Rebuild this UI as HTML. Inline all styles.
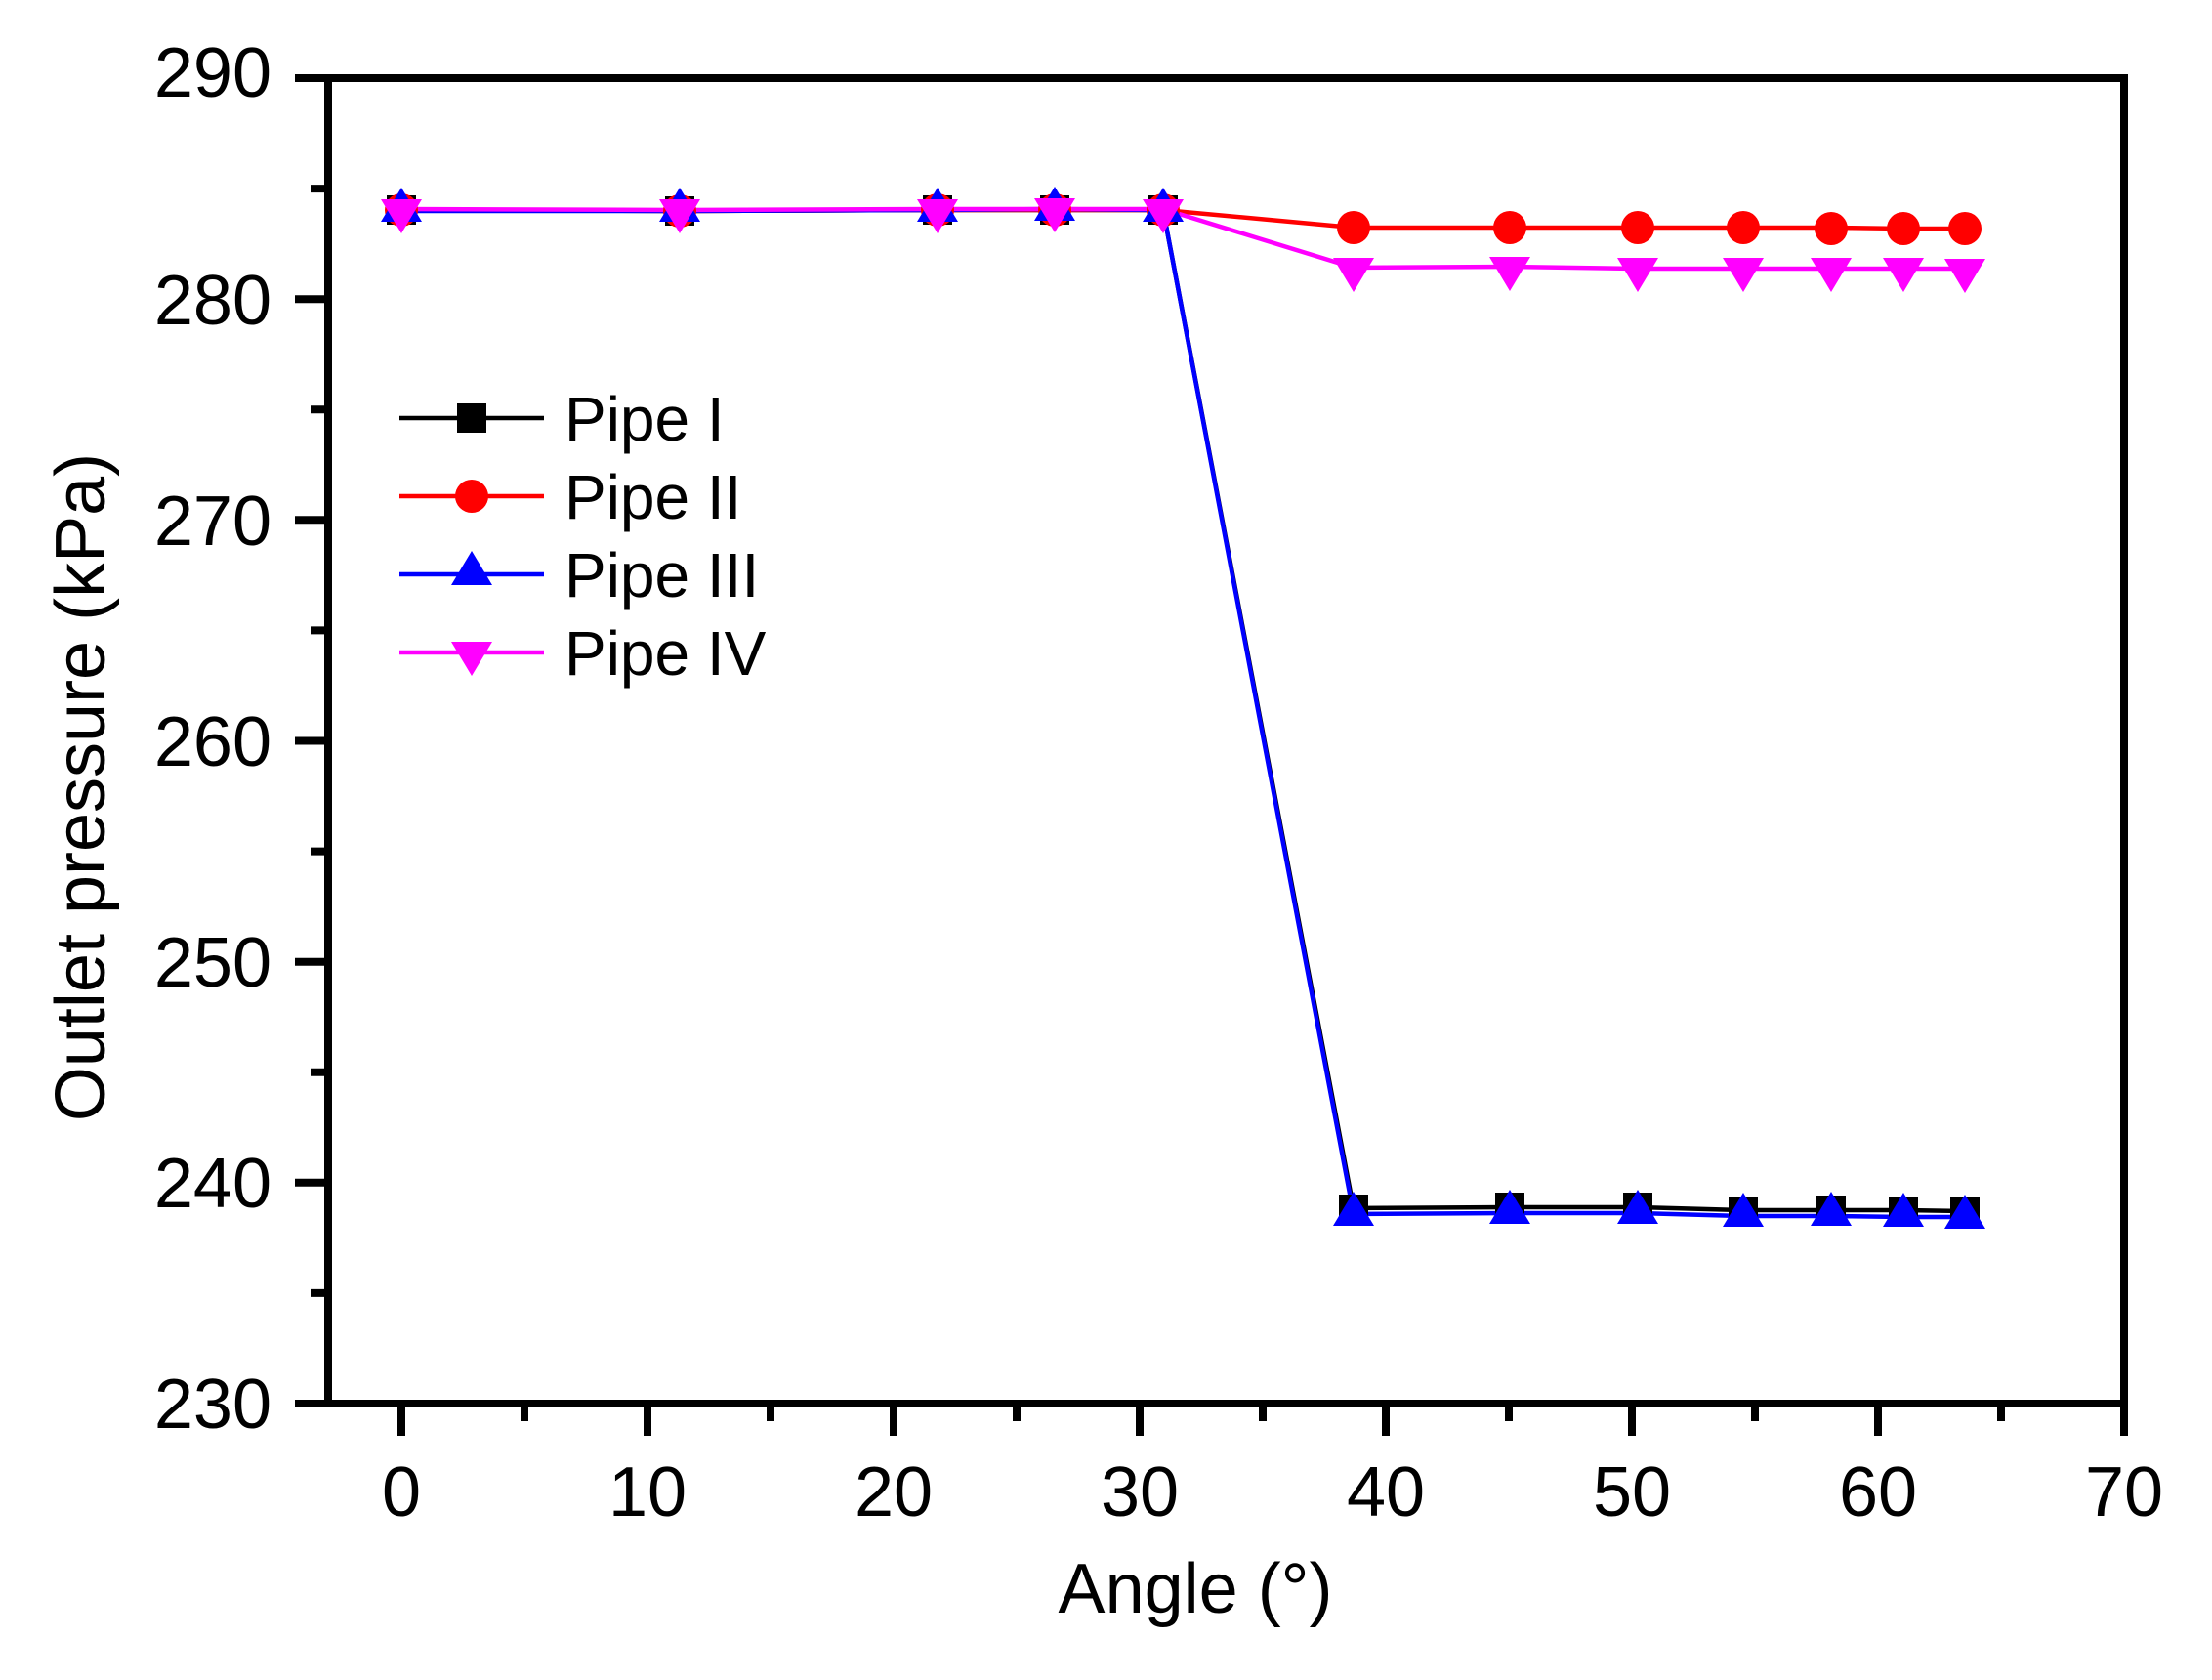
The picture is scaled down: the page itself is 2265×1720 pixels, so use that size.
<!DOCTYPE html>
<html><head><meta charset="utf-8"><style>
html,body{margin:0;padding:0;background:#fff}
svg{display:block}
text{font-family:"Liberation Sans",Arial,sans-serif;fill:#000}
</style></head><body>
<svg width="2265" height="1720" viewBox="0 0 2265 1720" xmlns="http://www.w3.org/2000/svg">
<defs>
<rect id="sq" x="-15" y="-15" width="30" height="30" fill="#000"/>
<circle id="ci" r="17" fill="#f00"/>
<polygon id="tu" points="0,-22 21,13 -21,13" fill="#00f"/>
<polygon id="td" points="0,22 21,-13 -21,-13" fill="#f0f"/>
</defs>
<rect x="336" y="80" width="1839" height="1357" fill="none" stroke="#000" stroke-width="8"/>
<g stroke="#000" stroke-width="8">
<line x1="302" y1="80" x2="336" y2="80"/>
<line x1="302" y1="306.2" x2="336" y2="306.2"/>
<line x1="302" y1="532.3" x2="336" y2="532.3"/>
<line x1="302" y1="758.5" x2="336" y2="758.5"/>
<line x1="302" y1="984.7" x2="336" y2="984.7"/>
<line x1="302" y1="1210.8" x2="336" y2="1210.8"/>
<line x1="302" y1="1437" x2="336" y2="1437"/>
<line x1="318" y1="193.1" x2="336" y2="193.1"/>
<line x1="318" y1="419.3" x2="336" y2="419.3"/>
<line x1="318" y1="645.4" x2="336" y2="645.4"/>
<line x1="318" y1="871.6" x2="336" y2="871.6"/>
<line x1="318" y1="1097.8" x2="336" y2="1097.8"/>
<line x1="318" y1="1323.9" x2="336" y2="1323.9"/>
<line x1="411" y1="1437" x2="411" y2="1470"/>
<line x1="663" y1="1437" x2="663" y2="1470"/>
<line x1="915" y1="1437" x2="915" y2="1470"/>
<line x1="1167" y1="1437" x2="1167" y2="1470"/>
<line x1="1419" y1="1437" x2="1419" y2="1470"/>
<line x1="1671" y1="1437" x2="1671" y2="1470"/>
<line x1="1923" y1="1437" x2="1923" y2="1470"/>
<line x1="2175" y1="1437" x2="2175" y2="1470"/>
<line x1="537" y1="1437" x2="537" y2="1455"/>
<line x1="789" y1="1437" x2="789" y2="1455"/>
<line x1="1041" y1="1437" x2="1041" y2="1455"/>
<line x1="1293" y1="1437" x2="1293" y2="1455"/>
<line x1="1545" y1="1437" x2="1545" y2="1455"/>
<line x1="1797" y1="1437" x2="1797" y2="1455"/>
<line x1="2049" y1="1437" x2="2049" y2="1455"/>
</g>
<g font-size="72" text-anchor="end">
<text x="278" y="99">290</text>
<text x="278" y="332">280</text>
<text x="278" y="558">270</text>
<text x="278" y="784">260</text>
<text x="278" y="1010">250</text>
<text x="278" y="1236">240</text>
<text x="278" y="1462">230</text>
</g>
<g font-size="72" text-anchor="middle">
<text x="411" y="1552">0</text>
<text x="663" y="1552">10</text>
<text x="915" y="1552">20</text>
<text x="1167" y="1552">30</text>
<text x="1419" y="1552">40</text>
<text x="1671" y="1552">50</text>
<text x="1923" y="1552">60</text>
<text x="2175" y="1552">70</text>
</g>
<text x="1224" y="1651" font-size="72" text-anchor="middle">Angle (°)</text>
<text transform="translate(107,806) rotate(-90)" font-size="72" text-anchor="middle">Outlet pressure (kPa)</text>
<g fill="none" stroke-width="4.5" stroke-linejoin="round">
<polyline stroke="#000" points="411,215 696,216 960,215 1080,215 1191,215 1386,1237 1546,1236 1677,1236 1785,1239 1875,1239 1949,1239 2012,1240"/>
<polyline stroke="#f00" points="411,215 696,216 960,215 1080,215 1191,215 1386,233 1546,233 1677,233 1785,233 1875,233 1949,234 2012,234"/>
<polyline stroke="#00f" points="411,216 696,216 960,215 1080,214 1191,215 1386,1243 1546,1242 1677,1242 1785,1245 1875,1245 1949,1246 2012,1246"/>
<polyline stroke="#f0f" points="411,214 696,215 960,214 1080,214 1191,214 1386,274 1546,273 1677,275 1785,275 1875,275 1949,275 2012,275"/>
</g>
<g>
<use href="#sq" x="411" y="215"/><use href="#sq" x="696" y="216"/><use href="#sq" x="960" y="215"/><use href="#sq" x="1080" y="215"/><use href="#sq" x="1191" y="215"/>
<use href="#sq" x="1386" y="1238"/><use href="#sq" x="1546" y="1236"/><use href="#sq" x="1677" y="1236"/><use href="#sq" x="1785" y="1240"/><use href="#sq" x="1875" y="1239"/><use href="#sq" x="1949" y="1240"/><use href="#sq" x="2012" y="1241"/>
<use href="#ci" x="411" y="215"/><use href="#ci" x="696" y="216"/><use href="#ci" x="960" y="215"/><use href="#ci" x="1080" y="215"/><use href="#ci" x="1191" y="215"/>
<use href="#ci" x="1386" y="233"/><use href="#ci" x="1546" y="233"/><use href="#ci" x="1677" y="233"/><use href="#ci" x="1785" y="233"/><use href="#ci" x="1875" y="234"/><use href="#ci" x="1949" y="234"/><use href="#ci" x="2012" y="234"/>
<use href="#tu" x="411" y="214"/><use href="#tu" x="696" y="214"/><use href="#tu" x="960" y="214"/><use href="#tu" x="1080" y="213"/><use href="#tu" x="1191" y="214"/>
<use href="#tu" x="1386" y="1242"/><use href="#tu" x="1546" y="1240"/><use href="#tu" x="1677" y="1240"/><use href="#tu" x="1785" y="1243"/><use href="#tu" x="1875" y="1242"/><use href="#tu" x="1949" y="1243"/><use href="#tu" x="2012" y="1245"/>
<use href="#td" x="411" y="217"/><use href="#td" x="696" y="217"/><use href="#td" x="960" y="217"/><use href="#td" x="1080" y="216"/><use href="#td" x="1191" y="217"/>
<use href="#td" x="1386" y="277"/><use href="#td" x="1546" y="276"/><use href="#td" x="1677" y="277"/><use href="#td" x="1785" y="277"/><use href="#td" x="1875" y="277"/><use href="#td" x="1949" y="277"/><use href="#td" x="2012" y="278"/>
</g>
<g stroke-width="4.5">
<line x1="409" y1="428" x2="557" y2="428" stroke="#000"/>
<line x1="409" y1="508" x2="557" y2="508" stroke="#f00"/>
<line x1="409" y1="588" x2="557" y2="588" stroke="#00f"/>
<line x1="409" y1="668" x2="557" y2="668" stroke="#f0f"/>
</g>
<use href="#sq" x="483" y="428"/>
<use href="#ci" x="483" y="508"/>
<use href="#tu" x="483" y="586"/>
<use href="#td" x="483" y="670"/>
<g font-size="64">
<text x="578" y="451">Pipe I</text>
<text x="578" y="531">Pipe II</text>
<text x="578" y="611">Pipe III</text>
<text x="578" y="691">Pipe IV</text>
</g>
</svg>
</body></html>
